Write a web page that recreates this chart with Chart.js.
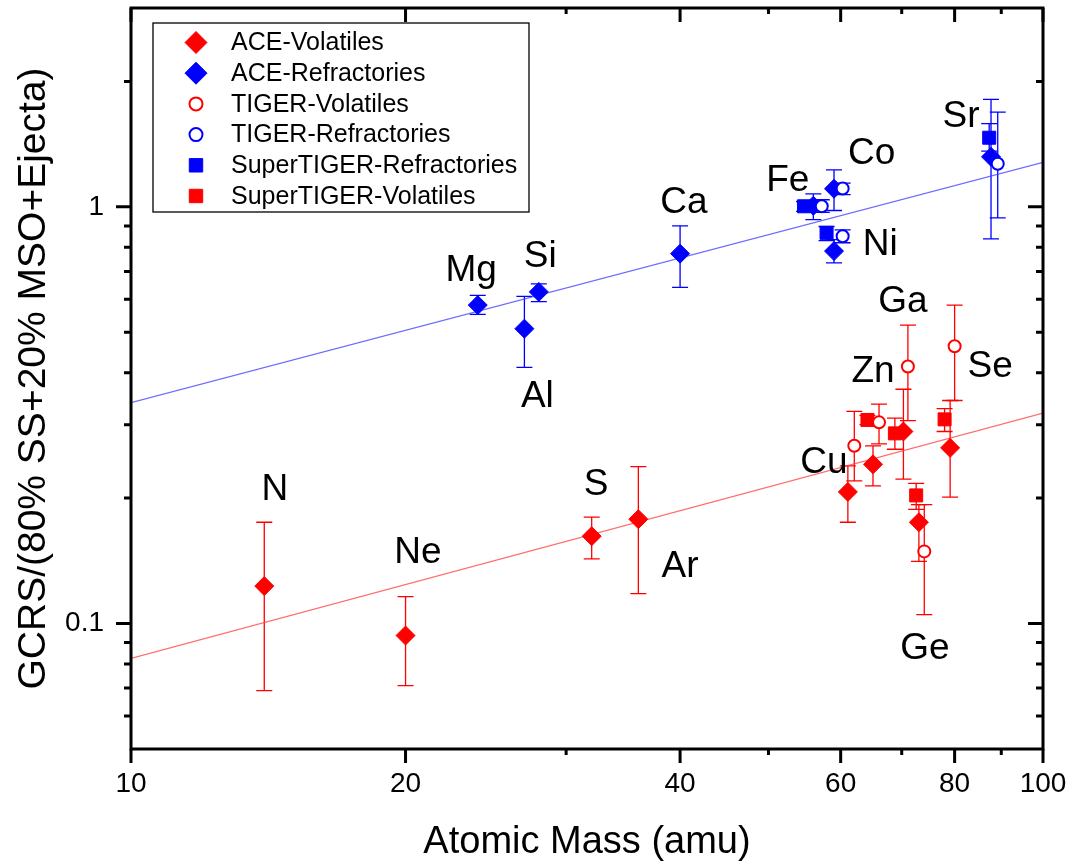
<!DOCTYPE html>
<html>
<head>
<meta charset="utf-8">
<script src="https://cdn.jsdelivr.net/npm/chart.js@4.4.1/dist/chart.umd.min.js"></script>
<style>
  body { margin: 0; background: #fff; }
  canvas { display: block; }
</style>
</head>
<body>
<canvas id="gcrsChart" width="1072" height="866"></canvas>
<script>
// values (x = atomic mass, y = GCRS / source ratio)
const aceVolMass = [14, 20, 32, 36, 61.1, 65.1, 70.3, 73.1, 79.1];
const aceVolRatio = [0.123, 0.0936, 0.162, 0.178, 0.207, 0.241, 0.289, 0.175, 0.264];
const aceVolLo = [0.069, 0.071, 0.143, 0.118, 0.175, 0.214, 0.222, 0.141, 0.201];
const aceVolHi = [0.175, 0.116, 0.180, 0.238, 0.239, 0.267, 0.365, 0.193, 0.343];

const aceRefMass = [24.0, 27.0, 28.0, 40.0, 56.0, 59.0, 59.0, 87.7];
const aceRefRatio = [0.581, 0.510, 0.625, 0.772, 1.006, 1.105, 0.783, 1.318];
const aceRefLo = [0.552, 0.412, 0.592, 0.641, 0.932, 0.980, 0.734, 0.838];
const aceRefHi = [0.613, 0.610, 0.653, 0.900, 1.074, 1.227, 0.834, 1.810];

const tigerVolMass = [62.1, 66.1, 71.1, 74.1, 80.0];
const tigerVolRatio = [0.267, 0.304, 0.414, 0.149, 0.463];
const tigerVolLo = [0.220, 0.270, 0.307, 0.105, 0.343];
const tigerVolHi = [0.323, 0.336, 0.520, 0.193, 0.581];

const tigerRefMass = [57.2, 60.3, 60.3, 89.2];
const tigerRefRatio = [1.003, 1.107, 0.850, 1.269];
const tigerRefLo = [0.97, 1.07, 0.82, 0.941];
const tigerRefHi = [1.04, 1.14, 0.88, 1.688];

const superRefMass = [54.7, 57.9, 87.3];
const superRefRatio = [1.003, 0.866, 1.465];
const superRefLo = [0.975, 0.83, 1.360];
const superRefHi = [1.03, 0.897, 1.583];

const superVolMass = [64.2, 68.8, 72.6, 78.0];
const superVolRatio = [0.308, 0.286, 0.203, 0.309];
const superVolLo = [0.300, 0.262, 0.188, 0.289];
const superVolHi = [0.316, 0.311, 0.217, 0.328];

// fitted trend lines (end points at the axis limits)
const fitMass = [10, 100];
const refFitRatio = [0.339, 1.278];
const volFitRatio = [0.0825, 0.320];

// element labels
const labelNames = ['N', 'Ne', 'S', 'Ar', 'Cu', 'Zn', 'Ga', 'Se', 'Ge', 'Mg', 'Si', 'Al', 'Ca', 'Fe', 'Co', 'Ni', 'Sr'];
const labelMass = [14.38, 20.64, 32.35, 40.0, 57.5, 65.1, 70.2, 87.5, 74.2, 23.6, 28.1, 27.9, 40.4, 52.5, 64.9, 66.3, 81.3];
const labelRatio = [0.209, 0.1476, 0.215, 0.1366, 0.2428, 0.402, 0.592, 0.413, 0.0872, 0.703, 0.759, 0.350, 1.024, 1.157, 1.343, 0.812, 1.648];

// axes
const xMajorTicks = [10, 20, 40, 60, 80, 100];
const xMinorTicks = [30, 50, 70, 90];
const yMajorTicks = [0.1, 1];
const yMinorTicks = [0.06, 0.07, 0.08, 0.09, 0.2, 0.3, 0.4, 0.5, 0.6, 0.7, 0.8, 0.9, 2];

const FONT = '"Liberation Sans", Arial, sans-serif';
const RED = '#ff0000';
const BLUE = '#0000ff';

const pts = (xs, ys) => xs.map((v, i) => ({ x: v, y: ys[i] }));

function series(label, mass, ratio, lo, hi, color, style, order) {
  const open = style === 'circle';
  const r = style === 'circle' ? 6 : (style === 'rect' ? 9.2 : 9.5);
  return {
    label: label,
    data: pts(mass, ratio),
    errLo: lo,
    errHi: hi,
    pointStyle: style,
    pointRadius: r,
    pointHoverRadius: r,
    backgroundColor: open ? '#fff' : color,
    borderColor: color,
    borderWidth: open ? 2 : 1,
    showLine: false,
    order: order,
    legendRadius: style === 'circle' ? 6.5 : (style === 'rect' ? 9.5 : 11)
  };
}

function fitLine(ratio, color) {
  return {
    label: '',
    data: pts(fitMass, ratio),
    showLine: true,
    borderColor: color,
    borderWidth: 1.2,
    pointRadius: 0,
    pointHoverRadius: 0,
    order: 5,
    isFit: true
  };
}

// drop the label overhang padding so the plot box keeps its place
function noLabelPadding(s) {
  s.paddingTop = 0; s.paddingBottom = 0; s.paddingLeft = 0; s.paddingRight = 0;
}

const errorBarPlugin = {
  id: 'errorBars',
  beforeDatasetsDraw(chart) {
    const { ctx, scales: { x, y } } = chart;
    ctx.save();
    ctx.lineWidth = 1.3;
    chart.data.datasets.forEach(ds => {
      if (!ds.errLo) return;
      ctx.strokeStyle = ds.borderColor;
      ctx.beginPath();
      ds.data.forEach((p, i) => {
        const px = x.getPixelForValue(p.x);
        const top = y.getPixelForValue(ds.errHi[i]);
        const bot = y.getPixelForValue(ds.errLo[i]);
        ctx.moveTo(px, top); ctx.lineTo(px, bot);
        ctx.moveTo(px - 8, top); ctx.lineTo(px + 8, top);
        ctx.moveTo(px - 8, bot); ctx.lineTo(px + 8, bot);
      });
      ctx.stroke();
    });
    ctx.restore();
  }
};

const framePlugin = {
  id: 'frame',
  afterDatasetsDraw(chart) {
    const { ctx, chartArea: a, scales: { x, y } } = chart;
    ctx.save();
    ctx.strokeStyle = '#000';
    ctx.lineWidth = 3;
    ctx.strokeRect(a.left, a.top, a.right - a.left, a.bottom - a.top);
    ctx.beginPath();
    const xt = (v, len) => {
      const px = x.getPixelForValue(v);
      ctx.moveTo(px, a.bottom); ctx.lineTo(px, a.bottom + len);
      ctx.moveTo(px, a.top); ctx.lineTo(px, a.top + len);
    };
    const yt = (v, len) => {
      const py = y.getPixelForValue(v);
      ctx.moveTo(a.left, py); ctx.lineTo(a.left - len, py);
      ctx.moveTo(a.right, py); ctx.lineTo(a.right - len, py);
    };
    xMajorTicks.forEach(v => xt(v, 14));
    xMinorTicks.forEach(v => xt(v, 6));
    yMajorTicks.forEach(v => yt(v, 15));
    yMinorTicks.forEach(v => yt(v, 7));
    ctx.stroke();
    ctx.restore();
  }
};

const labelPlugin = {
  id: 'elementLabels',
  afterDatasetsDraw(chart) {
    const { ctx, scales: { x, y } } = chart;
    ctx.save();
    ctx.fillStyle = '#000';
    ctx.font = '37px ' + FONT;
    ctx.textAlign = 'center';
    ctx.textBaseline = 'middle';
    labelNames.forEach((name, i) => {
      ctx.fillText(name, x.getPixelForValue(labelMass[i]), y.getPixelForValue(labelRatio[i]));
    });
    ctx.restore();
  }
};

const boxLegendPlugin = {
  id: 'boxLegend',
  afterDraw(chart) {
    const { ctx, chartArea: a } = chart;
    const x0 = a.left + 22, y0 = a.top + 15, w = 376, h = 189, row = 30.7;
    ctx.save();
    ctx.fillStyle = '#fff';
    ctx.fillRect(x0, y0, w, h);
    ctx.strokeStyle = '#000';
    ctx.lineWidth = 1.3;
    ctx.strokeRect(x0, y0, w, h);
    ctx.font = '25px ' + FONT;
    ctx.textBaseline = 'middle';
    const items = chart.data.datasets.filter(ds => !ds.isFit);
    items.forEach((ds, i) => {
      const cy = y0 + 19.5 + i * row;
      ctx.fillStyle = ds.backgroundColor;
      ctx.strokeStyle = ds.borderColor;
      ctx.lineWidth = ds.borderWidth;
      Chart.helpers.drawPoint(ctx, {
        pointStyle: ds.pointStyle, radius: ds.legendRadius, rotation: 0, borderWidth: ds.borderWidth
      }, x0 + 43, cy);
      ctx.fillStyle = '#000';
      ctx.fillText(ds.label, x0 + 78, cy + 1);
    });
    ctx.restore();
  }
};

new Chart(document.getElementById('gcrsChart'), {
  type: 'scatter',
  data: {
    datasets: [
      series('ACE-Volatiles', aceVolMass, aceVolRatio, aceVolLo, aceVolHi, RED, 'rectRot', 2),
      series('ACE-Refractories', aceRefMass, aceRefRatio, aceRefLo, aceRefHi, BLUE, 'rectRot', 2),
      series('TIGER-Volatiles', tigerVolMass, tigerVolRatio, tigerVolLo, tigerVolHi, RED, 'circle', 1),
      series('TIGER-Refractories', tigerRefMass, tigerRefRatio, tigerRefLo, tigerRefHi, BLUE, 'circle', 1),
      series('SuperTIGER-Refractories', superRefMass, superRefRatio, superRefLo, superRefHi, BLUE, 'rect', 3),
      series('SuperTIGER-Volatiles', superVolMass, superVolRatio, superVolLo, superVolHi, RED, 'rect', 3),
      fitLine(refFitRatio, 'rgba(60, 60, 255, 0.75)'),
      fitLine(volFitRatio, 'rgba(255, 60, 60, 0.75)')
    ]
  },
  options: {
    responsive: false,
    animation: false,
    events: [],
    layout: { autoPadding: false, padding: { left: 0, top: 8, right: 29, bottom: 0 } },
    plugins: {
      legend: { display: false },
      tooltip: { enabled: false }
    },
    scales: {
      x: {
        type: 'logarithmic',
        min: 10,
        max: 100,
        grid: { display: false, drawTicks: false },
        border: { display: false },
        afterBuildTicks: s => { s.ticks = xMajorTicks.map(v => ({ value: v })); },
        afterFit: s => { s.height = 117; noLabelPadding(s); },
        ticks: {
          padding: 18, color: '#000', autoSkip: false, maxRotation: 0,
          font: { family: FONT, size: 28 },
          callback: v => String(v)
        },
        title: {
          display: true, text: 'Atomic Mass (amu)', color: '#000',
          font: { family: FONT, size: 38 },
          padding: { top: 0, bottom: 1 }
        }
      },
      y: {
        type: 'logarithmic',
        min: 0.05,
        max: 3,
        grid: { display: false, drawTicks: false },
        border: { display: false },
        afterBuildTicks: s => { s.ticks = yMajorTicks.map(v => ({ value: v })); },
        afterFit: s => { s.width = 131; noLabelPadding(s); },
        ticks: {
          padding: 27, color: '#000', autoSkip: false,
          font: { family: FONT, size: 28 },
          callback: v => String(v)
        },
        title: {
          display: true, text: 'GCRS/(80% SS+20% MSO+Ejecta)', color: '#000',
          font: { family: FONT, size: 39 },
          padding: { top: 11, bottom: 0 }
        }
      }
    }
  },
  plugins: [errorBarPlugin, framePlugin, labelPlugin, boxLegendPlugin]
});
</script>
</body>
</html>
